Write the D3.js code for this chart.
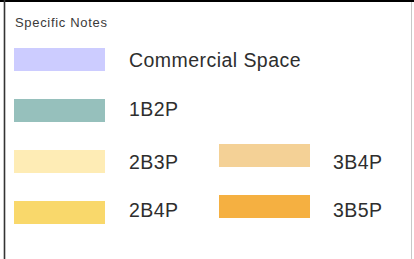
<!DOCTYPE html>
<html>
<head>
<meta charset="utf-8">
<script src="https://cdn.jsdelivr.net/npm/d3@7"></script>
<style>
  html, body { margin: 0; padding: 0; background: #ffffff; }
  svg { display: block; }
</style>
</head>
<body>
<div id="chart"></div>
<script>
// ---- data ----
const legendTitle = "Specific Notes";
const categories = ["Commercial Space", "1B2P", "2B3P", "2B4P", "3B4P", "3B5P"];
const colors = ["#ccccff", "#96c0bc", "#feecb5", "#f9d86b", "#f4d196", "#f5b041"];
const columns = [0, 0, 0, 0, 1, 1];
const rows = [0, 1, 2, 3, 2, 3];

const W = 414, H = 259;
const svg = d3.select("#chart").append("svg").attr("width", W).attr("height", H);

// frame
svg.append("rect").attr("x", 0).attr("y", 0).attr("width", W).attr("height", H).attr("fill", "#fff");
svg.append("line").attr("x1", 0).attr("x2", W).attr("y1", 1).attr("y2", 1)
  .attr("stroke", "#000").attr("stroke-width", 2);
svg.append("line").attr("x1", 4.5).attr("x2", 4.5).attr("y1", 0).attr("y2", H)
  .attr("stroke", "#333").attr("stroke-width", 1.6);
svg.append("line").attr("x1", 411.5).attr("x2", 411.5).attr("y1", 2).attr("y2", H)
  .attr("stroke", "#c8c8c8").attr("stroke-width", 1);

svg.append("text").attr("x", 15).attr("y", 27)
  .attr("font-family", "Liberation Sans, Arial, sans-serif")
  .attr("font-size", 13).attr("fill", "#3a3a3a")
  .attr("textLength", 92).attr("lengthAdjust", "spacing")
  .text(legendTitle);

// scales
const yRow = d3.scaleLinear().domain([0, 3]).range([48, 201]);
const xCol = d3.scaleOrdinal().domain([0, 1]).range([14, 219]);
const colOffset = d3.scaleOrdinal().domain([0, 1]).range([0, -6]);
const xText = d3.scaleOrdinal().domain([0, 1]).range([129, 333]);
const baseline = [67, 116, 169, 217];

const items = categories.map((c, i) => ({ name: c, color: colors[i], col: columns[i], row: rows[i] }));

const g = svg.selectAll("g.item").data(items).enter().append("g").attr("class", "item");
g.append("rect")
  .attr("x", d => xCol(d.col))
  .attr("y", d => yRow(d.row) + colOffset(d.col))
  .attr("width", 91).attr("height", 23)
  .attr("fill", d => d.color);
g.append("text")
  .attr("x", d => xText(d.col))
  .attr("y", d => baseline[d.row])
  .attr("font-family", "Liberation Sans, Arial, sans-serif")
  .attr("font-size", 19.5).attr("fill", "#2e2e2e")
  .attr("letter-spacing", 0.45)
  .text(d => d.name);
</script>
</body>
</html>
